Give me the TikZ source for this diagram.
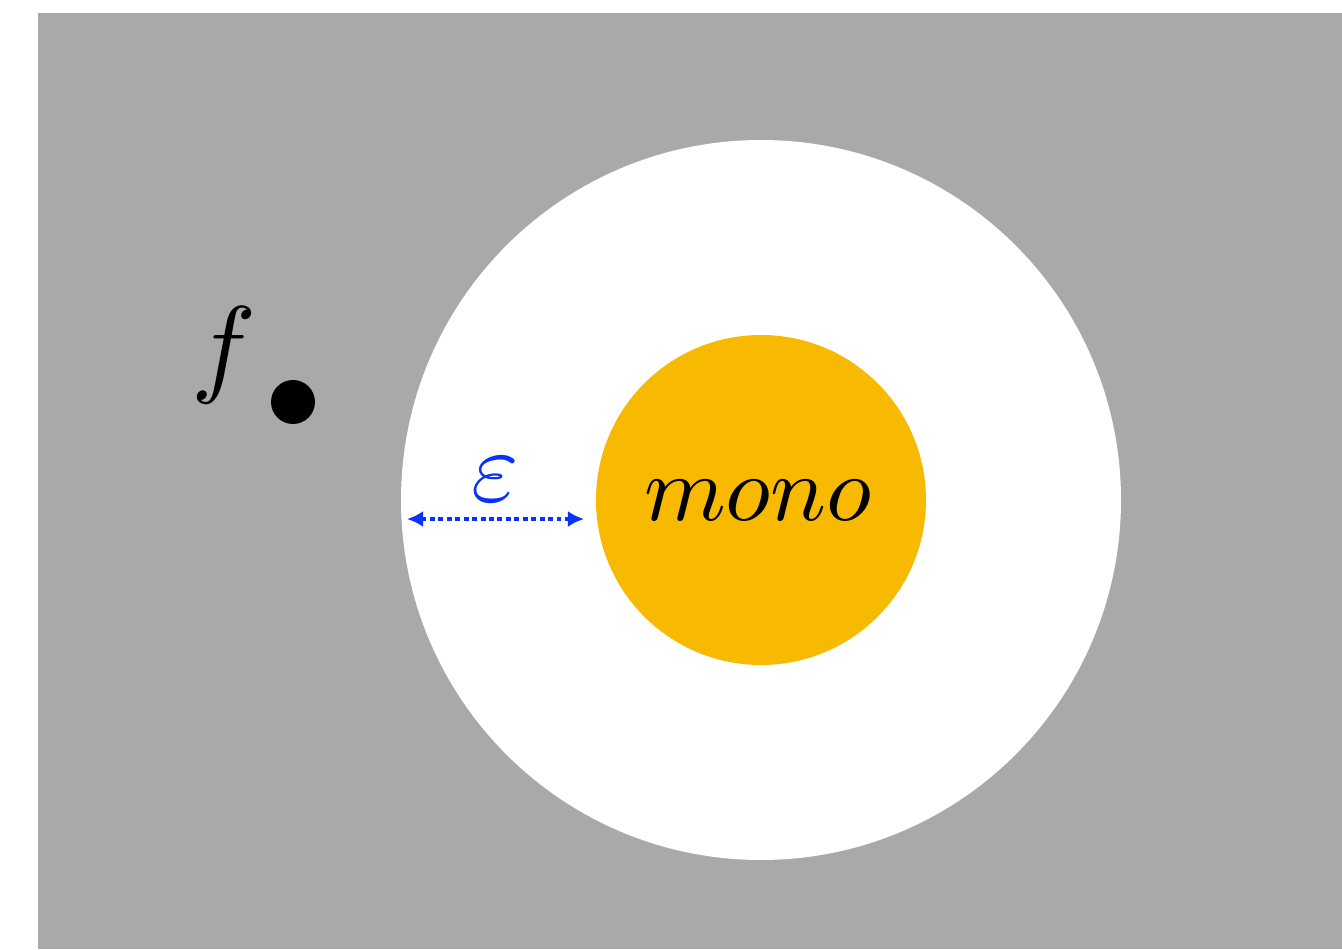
\documentclass[tikz,border=0pt]{standalone}
\usetikzlibrary{arrows.meta}
\definecolor{bggray}{RGB}{169,169,169}
\definecolor{monoorange}{RGB}{247,186,0}
\definecolor{epsblue}{RGB}{10,50,250}
\begin{document}
\begin{tikzpicture}[scale = 1,
	bigtext/.style = {scale = #1, transform shape, inner sep = 0pt},
	gap/.style = {epsblue, line width = 1.1pt, dash pattern = on 1.4pt off 1pt, {Latex[length=4.6pt, width=4.6pt]}-{Latex[length=4.6pt, width=4.6pt]}}]
	\useasboundingbox (0,0) rectangle (13.42,9.49);
	\fill [bggray] (0.38,0) rectangle (13.42,9.36);
	\fill [white] (7.61,4.49) circle (3.6);
	\fill [monoorange] (7.61,4.49) circle (1.65);
	\fill [black] (2.93,5.47) circle (0.22);
	\node [bigtext = 3.1] (f) at (2.24,5.94) {$f$};
	\node [bigtext = 2.65] (mono) at (7.58,4.49) {$mono$};
	\node [bigtext = 2.9, epsblue] (eps) at (4.95,4.69) {$\varepsilon$};
	\coordinate (gapL) at (4.07,4.30);
	\coordinate (gapR) at (5.84,4.30);
	\draw [gap] (gapL) -- (gapR);
\end{tikzpicture}
\end{document}
